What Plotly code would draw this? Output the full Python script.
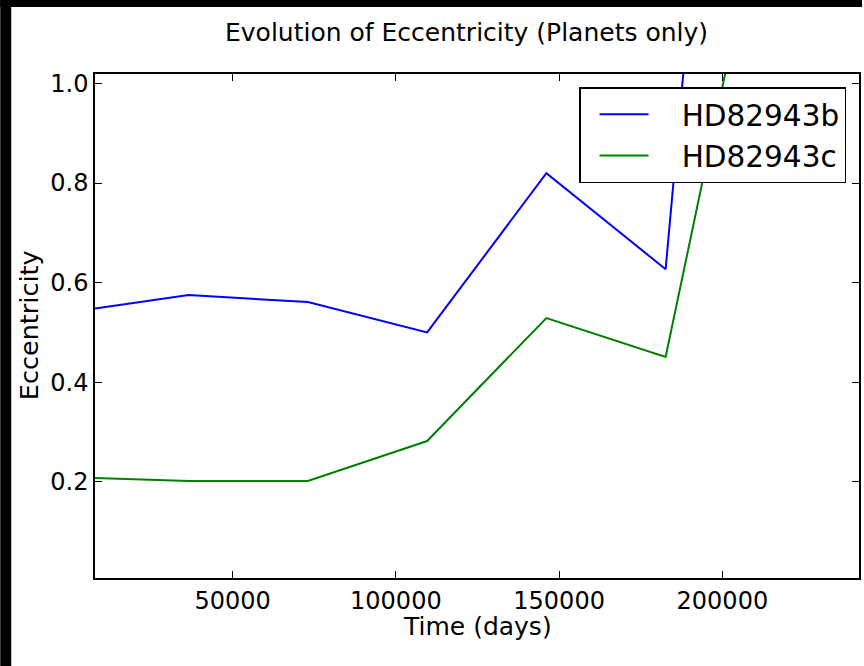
import plotly.graph_objects as go

# ---- data ----
time_days = [7850, 36525, 73050, 109575, 146100, 182625, 219150]
ecc_b = [0.548, 0.575, 0.561, 0.500, 0.820, 0.627, 3.28]
ecc_c = [0.208, 0.202, 0.202, 0.282, 0.529, 0.451, 1.59]
series_names = ["HD82943b", "HD82943c"]
x_ticks = [50000, 100000, 150000, 200000]
y_ticks = [0.2, 0.4, 0.6, 0.8, 1.0]

W, H = 864, 666
L, R, T, B = 95, 861, 74, 578
pw, ph = R - L, B - T


def px_x(p):
    return (p - L) / pw


def px_y(p):
    return (B - p) / ph


font = "DejaVu Sans"
pad = "   "
fig = go.Figure()
fig.add_trace(go.Scatter(x=time_days, y=ecc_b, mode="lines", name=pad + series_names[0],
                         line=dict(color="#0000ff", width=2)))
fig.add_trace(go.Scatter(x=time_days, y=ecc_c, mode="lines", name=pad + series_names[1],
                         line=dict(color="#008000", width=2)))

axis_common = dict(showgrid=False, zeroline=False, showline=True, linecolor="black",
                   linewidth=1.5, mirror="ticks", ticks="inside", ticklen=7,
                   tickcolor="black", tickwidth=1,
                   tickfont=dict(family=font, size=24, color="black"))

fig.update_layout(
    width=W, height=H,
    margin=dict(l=L, r=W - R, t=T, b=H - B, pad=0),
    paper_bgcolor="white", plot_bgcolor="white",
    showlegend=True,
    legend=dict(x=px_x(848), y=px_y(87), xanchor="right", yanchor="top",
                bordercolor="black", borderwidth=1.5, bgcolor="white",
                font=dict(family=font, size=29.5, color="black"),
                itemwidth=49, indentation=14, tracegroupgap=0),
    xaxis=dict(range=[7850, 241850], tickvals=x_ticks,
               ticktext=[str(v) for v in x_ticks], **axis_common),
    yaxis=dict(range=[0.007, 1.019], tickvals=y_ticks,
               ticktext=[f"{v:.1f}" for v in y_ticks], **axis_common),
    annotations=[
        dict(text="Evolution of Eccentricity (Planets only)", xref="paper", yref="paper",
             x=px_x(467), y=px_y(32), xanchor="center", yanchor="middle", showarrow=False,
             font=dict(family=font, size=25, color="black")),
        dict(text="Time (days)", xref="paper", yref="paper",
             x=px_x(479), y=px_y(626), xanchor="center", yanchor="middle", showarrow=False,
             font=dict(family=font, size=25, color="black")),
        dict(text="Eccentricity", xref="paper", yref="paper", textangle=-90,
             x=px_x(29), y=px_y(325), xanchor="center", yanchor="middle", showarrow=False,
             font=dict(family=font, size=25.5, color="black")),
    ],
    shapes=[
        dict(type="rect", xref="paper", yref="paper", x0=px_x(0), x1=px_x(W),
             y0=px_y(7), y1=px_y(0), fillcolor="black", line=dict(width=0), layer="above"),
        dict(type="rect", xref="paper", yref="paper", x0=px_x(0), x1=px_x(11),
             y0=px_y(H), y1=px_y(0), fillcolor="black", line=dict(width=0), layer="above"),
    ],
)

fig.write_html("out.html")
